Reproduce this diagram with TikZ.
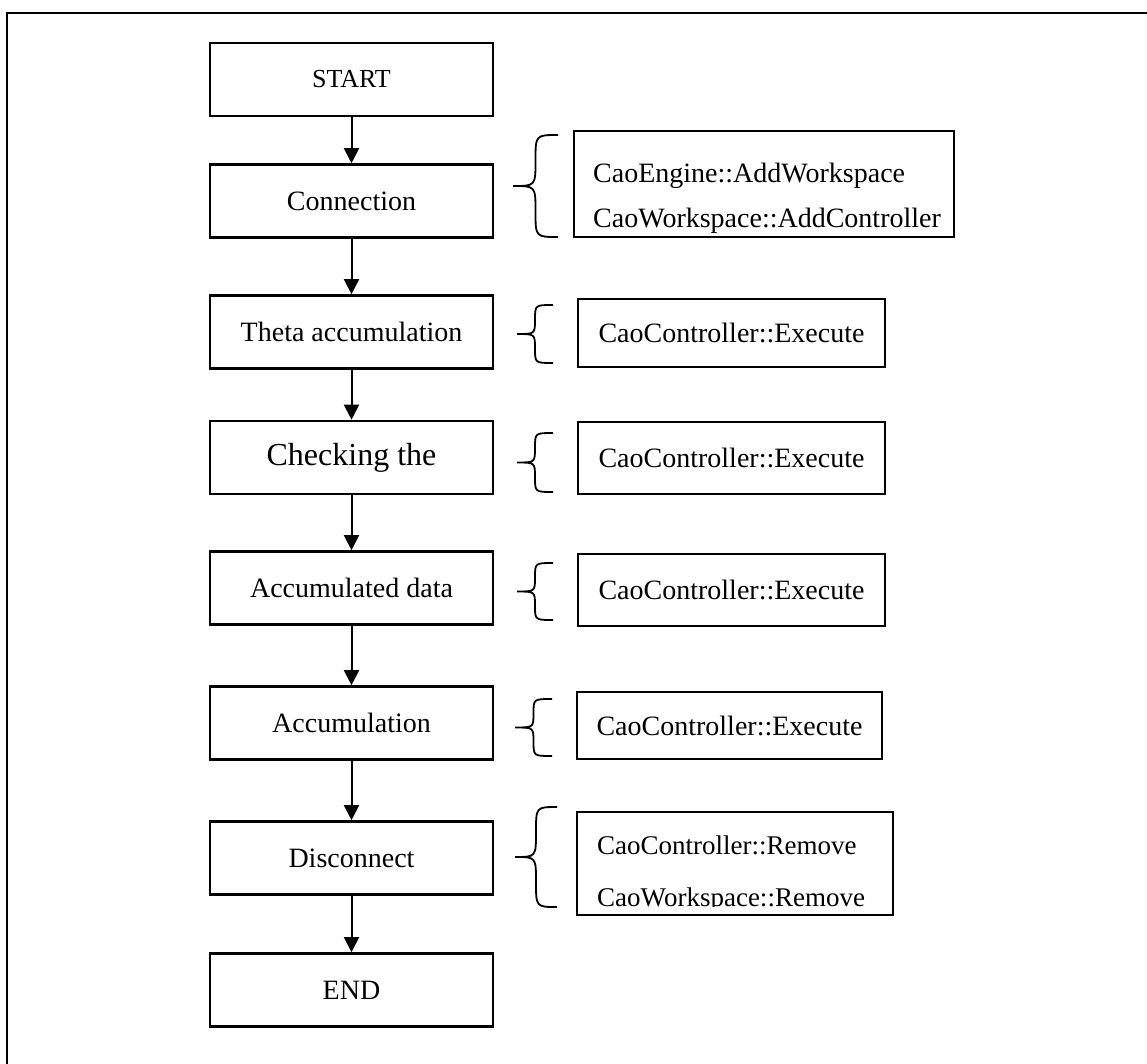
\documentclass[tikz,border=0pt]{standalone}
\usepackage{fontspec}
\setmainfont{Liberation Serif}
\usetikzlibrary{arrows.meta}
\newcommand\sidebrace[4]{% xl xr top bot
  \draw[bracepath] (#2,#3) .. controls ({(#1+#2)/2},#3) .. ({(#1+#2)/2},{(3*#3+#4)/4})
    .. controls ({(#1+#2)/2},{(#3+#4)/2}) .. (#1,{(#3+#4)/2})
    .. controls ({(#1+#2)/2},{(#3+#4)/2}) .. ({(#1+#2)/2},{(#3+3*#4)/4})
    .. controls ({(#1+#2)/2},#4) .. (#2,#4);}
\begin{document}
\begin{tikzpicture}[x=1pt,y=-1pt,
  mainbox/.style={draw, line width=2.6pt, minimum width=283pt, minimum height=73pt,
    inner sep=0pt, font=\fontsize{28}{34}\selectfont},
  sidebox/.style={draw, line width=1.3pt, inner sep=0pt, font=\fontsize{28}{34}\selectfont},
  sidetext/.style={anchor=base west, inner sep=0pt, font=\fontsize{28}{34}\selectfont},
  flow/.style={line width=2pt, -{Triangle[width=15pt,length=15pt]}},
  bracepath/.style={line width=1.8pt},
  frame/.style={line width=2.5pt}]
\useasboundingbox (0,0) rectangle (1147,1064);
% outer frame
\coordinate (fb) at (7,1064);
\coordinate (fc) at (7,13);
\coordinate (fr) at (1147,13);
\draw[frame] (fb) -- (fc) -- (fr);
% main column
\node[mainbox, font=\fontsize{26}{32}\selectfont] (start) at (351.5,79.5) {START};
\node[mainbox] (conn)  at (351.5,201) {Connection};
\node[mainbox] (theta) at (351.5,332) {Theta accumulation};
\node[mainbox, font=\fontsize{32}{38}\selectfont] (check) at (351.5,457.5) {Checking the};
\node[mainbox] (accd)  at (351.5,588) {Accumulated data};
\node[mainbox] (accu)  at (351.5,723) {Accumulation};
\node[mainbox] (disc)  at (351.5,858) {Disconnect};
\node[mainbox] (fin)   at (351.5,990) {END};
\draw[flow] (start) -- (conn);
\draw[flow] (conn) -- (theta);
\draw[flow] (theta) -- (check);
\draw[flow] (check) -- (accd);
\draw[flow] (accd) -- (accu);
\draw[flow] (accu) -- (disc);
\draw[flow] (disc) -- (fin);
% side boxes
\node[sidebox, minimum width=380pt, minimum height=106pt] (s1) at (764,184) {};
\node[sidetext] (s1a) at (593,183) {CaoEngine::AddWorkspace};
\node[sidetext] (s1b) at (593,228) {CaoWorkspace::AddController};
\sidebrace{513}{558}{135}{237}
\node[sidebox, minimum width=307pt, minimum height=68pt] (s2) at (731.5,333) {CaoController::Execute};
\sidebrace{517}{553}{305}{363}
\node[sidebox, minimum width=307pt, minimum height=72pt] (s3) at (731.5,458) {CaoController::Execute};
\sidebrace{517}{553}{433}{492}
\node[sidebox, minimum width=307pt, minimum height=72pt] (s4) at (731.5,590) {CaoController::Execute};
\sidebrace{517}{553}{563}{620}
\node[sidebox, minimum width=305pt, minimum height=67pt] (s5) at (729.5,725.5) {CaoController::Execute};
\sidebrace{515}{552}{699}{756}
\node[sidebox, minimum width=316pt, minimum height=103pt] (s6) at (735,863.5) {};
\node[sidetext, font=\fontsize{27}{33}\selectfont] (s6a) at (597,854) {CaoController::Remove};
\begin{scope}
  \clip (577,880) rectangle (893,906);
  \node[sidetext, font=\fontsize{27}{33}\selectfont] (s6b) at (597,906) {CaoWorkspace::Remove};
\end{scope}
\sidebrace{515}{557}{807}{907}
\end{tikzpicture}
\end{document}
